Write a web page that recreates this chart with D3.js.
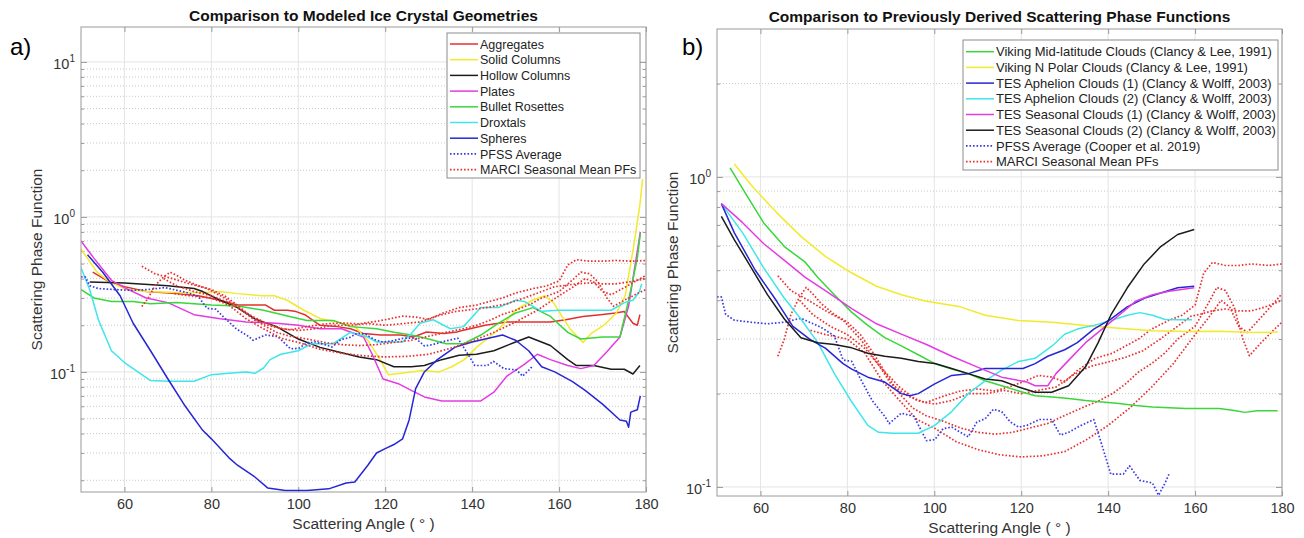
<!DOCTYPE html>
<html><head><meta charset="utf-8">
<script src="https://cdn.jsdelivr.net/npm/d3@7"></script>
<style>
body{margin:0;background:#fff}
svg{display:block}
text{font-family:"Liberation Sans",Arial,Helvetica,sans-serif}
</style>
</head><body>
<svg id="c" width="1304" height="538"></svg>
<script>
// ---------------- DATA ----------------
const X_TICKS = [60, 80, 100, 120, 140, 160, 180];
const LEFT_Y_TICKS = [0.1, 1, 10];
const RIGHT_Y_TICKS = [0.1, 1];

// Left panel: modeled ice crystal geometries  [scattering angle, phase function]
const aggregates = [[52.7,0.44],[56.6,0.38],[60,0.355],[65,0.33],[72,0.32],[77,0.31],[82,0.29],[86,0.27],[92.5,0.27],[94.5,0.25],[97.5,0.25],[99.5,0.245],[101.5,0.234],[105,0.2],[109,0.196],[112,0.19],[115,0.177],[119,0.173],[123.5,0.173],[126.5,0.168],[129.5,0.181],[133.5,0.177],[136.5,0.181],[138,0.186],[143,0.2],[148,0.21],[153,0.21],[158,0.21],[161.5,0.217],[165.5,0.228],[169.5,0.234],[173,0.24],[175,0.245],[177,0.206],[178,0.2],[178.6,0.234]];
const solidColumns = [[50,0.62],[53.7,0.44],[56.6,0.38],[60.5,0.34],[65,0.33],[72,0.325],[78,0.325],[82,0.33],[86,0.32],[91.6,0.31],[94.5,0.31],[97.4,0.29],[101.3,0.25],[105.2,0.22],[109,0.21],[113,0.196],[116,0.16],[119,0.118],[120.7,0.096],[123.7,0.098],[128.5,0.102],[132.4,0.1],[135.3,0.108],[138.2,0.12],[141,0.144],[144,0.168],[147,0.2],[150,0.25],[153.8,0.29],[156.7,0.31],[158.7,0.28],[160.6,0.23],[162.5,0.19],[165.5,0.155],[167.4,0.177],[170.3,0.2],[173.2,0.24],[175.2,0.31],[177.1,0.63],[178.6,1.2],[179.2,1.75]];
const hollowColumns = [[52,0.38],[60,0.375],[70,0.36],[76,0.345],[78,0.33],[82,0.29],[86,0.26],[90,0.22],[95,0.196],[100,0.163],[105,0.144],[110,0.133],[114,0.125],[118,0.12],[122,0.108],[126,0.108],[129,0.11],[133,0.12],[137,0.128],[141,0.13],[145,0.137],[150,0.156],[153,0.168],[158,0.148],[162,0.12],[164,0.11],[168,0.11],[172,0.104],[175,0.104],[177,0.097],[178.6,0.11]];
const plates = [[50,0.7],[53,0.54],[57,0.39],[60,0.35],[65,0.3],[70,0.28],[76,0.234],[82,0.22],[88,0.21],[95,0.206],[100,0.2],[105,0.19],[110,0.19],[115,0.168],[117,0.13],[119.5,0.09],[123,0.084],[126,0.076],[129,0.069],[133,0.065],[137,0.065],[142,0.065],[145,0.074],[148,0.094],[152,0.112],[155,0.13],[158,0.12],[162,0.11],[165,0.105],[168,0.11],[171,0.135],[174,0.168],[176,0.266],[177.5,0.49],[178.7,0.8]];
const bulletRosettes = [[50,0.34],[53,0.3],[57,0.285],[62,0.285],[66,0.275],[72,0.28],[80,0.27],[86,0.266],[92,0.25],[98,0.228],[102,0.215],[108,0.215],[112,0.196],[118,0.19],[122,0.18],[126,0.173],[130,0.163],[134,0.152],[138,0.152],[142,0.173],[146,0.206],[150,0.24],[154,0.26],[158,0.228],[162,0.18],[165,0.163],[170,0.168],[174,0.168],[176,0.29],[178,0.54],[178.7,0.78]];
const droxtals = [[50,0.47],[52,0.34],[54,0.217],[57,0.137],[60,0.115],[66,0.088],[70,0.087],[76,0.087],[80,0.096],[84,0.098],[88,0.1],[90,0.098],[92,0.106],[93.5,0.12],[96,0.13],[100,0.137],[103,0.152],[108,0.152],[112,0.18],[116,0.168],[118,0.156],[124,0.156],[126,0.177],[128,0.206],[131,0.217],[135,0.19],[138,0.196],[142,0.26],[146,0.26],[150,0.29],[152,0.285],[156,0.246],[160,0.25],[166,0.25],[172,0.25],[175,0.28],[177,0.29],[178.5,0.33],[179,0.37]];
const spheres = [[51.5,0.57],[55,0.44],[59,0.31],[62,0.206],[66,0.137],[70,0.09],[74,0.06],[78,0.042],[80,0.037],[84,0.028],[86,0.025],[90,0.021],[93,0.0178],[97,0.0172],[102,0.0172],[107,0.0176],[111,0.0192],[113,0.0195],[116,0.025],[118,0.03],[120,0.032],[122,0.034],[124,0.037],[125.5,0.049],[127,0.078],[129,0.1],[132,0.12],[136,0.144],[140,0.156],[143,0.163],[147,0.173],[150,0.16],[153,0.137],[156,0.108],[159,0.1],[163,0.087],[166,0.076],[170,0.062],[174,0.049],[175.5,0.048],[176,0.044],[176.5,0.055],[178,0.057],[178.7,0.07]];

// Shared: PFSS average (Cooper et al. 2019) and MARCI seasonal mean phase functions
const pfssAverage = [[50,0.41],[51,0.41],[52,0.36],[54,0.345],[57.8,0.34],[61.6,0.336],[65.5,0.34],[69.3,0.35],[71.3,0.34],[74,0.327],[77,0.307],[79,0.257],[81,0.254],[82.8,0.226],[85.7,0.19],[88.6,0.169],[89.6,0.16],[92.4,0.173],[95.3,0.169],[98.2,0.141],[100.1,0.142],[102,0.154],[104,0.156],[107.8,0.145],[109.8,0.162],[111.7,0.166],[113.6,0.178],[115.5,0.175],[117.5,0.162],[119.4,0.156],[121.3,0.158],[124.2,0.165],[127,0.165],[129,0.147],[130.9,0.15],[133.8,0.158],[136.7,0.165],[138.6,0.136],[140.6,0.11],[143.5,0.11],[144.9,0.117],[147.3,0.105],[150.2,0.103],[151.6,0.094],[153.1,0.103],[154,0.11]];
const marci1 = [[64,0.48],[67,0.43],[71,0.4],[75,0.37],[79,0.345],[83,0.3],[87,0.25],[90,0.215],[94,0.196],[98,0.187],[102,0.196],[106,0.204],[110,0.207],[114,0.204],[118,0.212],[121,0.22],[124,0.229],[127,0.226],[130,0.218],[133,0.238],[137,0.26],[141,0.27],[144,0.285],[147,0.3],[150,0.323],[154,0.345],[157,0.358],[160,0.386],[162,0.49],[164,0.53],[167,0.518],[170,0.518],[173,0.524],[177,0.518],[180,0.524]];
const marci2 = [[64,0.264],[65.5,0.3],[67,0.36],[69,0.41],[70.5,0.44],[72,0.42],[74,0.39],[77,0.36],[80,0.34],[83,0.31],[86,0.27],[89,0.23],[92,0.2],[95,0.18],[98,0.17],[102,0.163],[106,0.155],[110,0.15],[114,0.148],[118,0.15],[122,0.155],[126,0.16],[130,0.17],[134,0.18],[138,0.19],[141,0.2],[144,0.215],[147,0.235],[150,0.25],[153,0.27],[156,0.3],[160,0.33],[163,0.39],[165,0.44],[167,0.43],[169,0.38],[171,0.3],[172.5,0.265],[175,0.29],[178,0.32],[180,0.34]];
const marci3 = [[71.5,0.32],[75,0.31],[80,0.3],[84,0.27],[88,0.22],[92,0.19],[96,0.165],[100,0.155],[105,0.14],[110,0.132],[115,0.127],[120,0.125],[125,0.126],[130,0.13],[135,0.142],[140,0.158],[145,0.18],[150,0.21],[155,0.25],[160,0.31],[163,0.35],[166,0.4],[168,0.38],[170,0.33],[172,0.315],[175,0.35],[178,0.39],[180,0.42]];
const marci4 = [[69,0.4],[72,0.36],[76,0.33],[80,0.31],[84,0.28],[88,0.24],[92,0.21],[96,0.19],[100,0.185],[104,0.19],[108,0.2],[112,0.2],[116,0.205],[120,0.2],[124,0.205],[128,0.21],[132,0.23],[136,0.245],[140,0.253],[144,0.262],[148,0.275],[152,0.3],[156,0.33],[159,0.355],[161,0.36],[164,0.37],[167,0.375],[170,0.37],[173,0.37],[176,0.38],[178,0.39],[180,0.4]];

// Right panel: previously derived phase functions
const vikingMidLat = [[53,1.07],[56.8,0.874],[60.7,0.712],[65.5,0.596],[70.3,0.531],[73.2,0.474],[77,0.417],[80.9,0.367],[84.7,0.332],[88.6,0.303],[92.4,0.285],[96.3,0.267],[100.1,0.25],[104,0.24],[107.8,0.232],[111.7,0.22],[115.5,0.212],[119.4,0.204],[123.2,0.197],[127.1,0.195],[130.9,0.193],[134.8,0.19],[138.6,0.188],[142.5,0.186],[146.3,0.183],[150.2,0.181],[154,0.18],[157.9,0.179],[161.7,0.179],[165.6,0.179],[169.4,0.176],[171.4,0.174],[174.3,0.176],[179,0.176]];
const vikingNPolar = [[54,1.1],[57.8,0.943],[63.6,0.77],[69.3,0.643],[75.1,0.552],[79.9,0.5],[86.7,0.444],[92.4,0.417],[98.2,0.397],[106,0.381],[111.7,0.358],[119.4,0.344],[127,0.34],[134.8,0.332],[142.5,0.325],[150.2,0.319],[157.9,0.317],[165.6,0.318],[173.3,0.315],[179,0.316]];
const tesAphelion1 = [[51,0.82],[54,0.66],[58.8,0.5],[63.6,0.4],[67.4,0.33],[71.3,0.3],[75,0.28],[79,0.25],[81,0.24],[84.7,0.226],[88.6,0.218],[92.4,0.2],[94.4,0.197],[96.3,0.2],[100.1,0.215],[104,0.229],[107.8,0.232],[111.7,0.241],[116.5,0.241],[120.4,0.241],[123.2,0.25],[126.1,0.264],[130,0.277],[132.9,0.292],[136.7,0.323],[140.6,0.348],[144.4,0.381],[148.3,0.406],[152.1,0.422],[156,0.439],[159.8,0.444]];
const tesAphelion2 = [[51,0.82],[55.9,0.66],[60.7,0.51],[65.5,0.406],[69.3,0.348],[73.2,0.292],[77,0.232],[80.9,0.189],[84.7,0.158],[87.2,0.15],[90.5,0.149],[96.3,0.149],[100.1,0.158],[104,0.175],[107.8,0.2],[111.7,0.22],[115.5,0.238],[119.4,0.254],[123.2,0.26],[127.1,0.285],[130,0.311],[132.9,0.323],[136.7,0.332],[140.6,0.344],[144.4,0.358],[147.3,0.365],[150.2,0.358],[153.1,0.347],[156,0.346],[159.3,0.346]];
const tesSeasonal1 = [[51,0.82],[55.9,0.712],[60.7,0.61],[65.5,0.538],[70.3,0.474],[75.1,0.428],[81,0.376],[86.7,0.336],[92.4,0.311],[98.2,0.288],[104,0.264],[109.8,0.244],[115.5,0.226],[121.3,0.218],[123.2,0.212],[126.1,0.212],[128,0.232],[131,0.257],[134.8,0.292],[138.6,0.323],[142.5,0.358],[146.3,0.397],[150.2,0.417],[154,0.428],[159.8,0.439]];
const tesSeasonal2 = [[51,0.746],[54,0.627],[57.8,0.512],[61.6,0.417],[65.5,0.348],[69.3,0.303],[73.2,0.292],[77,0.288],[81,0.281],[84.7,0.27],[88.6,0.264],[92.4,0.26],[96.3,0.254],[100.1,0.25],[104,0.241],[107.8,0.232],[111.7,0.223],[115.5,0.22],[119.4,0.21],[123.2,0.202],[127,0.202],[130.9,0.212],[134.8,0.244],[137.7,0.292],[140.6,0.358],[144.4,0.439],[148.3,0.524],[152.1,0.596],[156,0.652],[159.8,0.677]];

const LEFT_LABELS = ["Aggregates","Solid Columns","Hollow Columns","Plates","Bullet Rosettes","Droxtals","Spheres","PFSS Average","MARCI Seasonal Mean PFs"];
const RIGHT_LABELS = ["Viking Mid-latitude Clouds (Clancy & Lee, 1991)","Viking N Polar Clouds (Clancy & Lee, 1991)","TES Aphelion Clouds (1) (Clancy & Wolff, 2003)","TES Aphelion Clouds (2) (Clancy & Wolff, 2003)","TES Seasonal Clouds (1) (Clancy & Wolff, 2003)","TES Seasonal Clouds (2) (Clancy & Wolff, 2003)","PFSS Average (Cooper et al. 2019)","MARCI Seasonal Mean PFs"];

// ---------------- STYLE ----------------
const C = {red:"#e3302f", yellow:"#f2ea2c", black:"#1c1c1c", magenta:"#e23ce2", green:"#3ad63a", cyan:"#3ee6ea", blue:"#2626d6", dotBlue:"#3a3ae6", dotRed:"#e8302f"};

const leftSeries = [
  {d:aggregates, c:C.red}, {d:solidColumns, c:C.yellow}, {d:hollowColumns, c:C.black},
  {d:plates, c:C.magenta}, {d:bulletRosettes, c:C.green}, {d:droxtals, c:C.cyan},
  {d:spheres, c:C.blue}, {d:pfssAverage, c:C.dotBlue, dot:true},
  {d:marci1, c:C.dotRed, dot:true}, {d:marci2, c:C.dotRed, dot:true}, {d:marci3, c:C.dotRed, dot:true}, {d:marci4, c:C.dotRed, dot:true}
];
const leftLegend = [C.red,C.yellow,C.black,C.magenta,C.green,C.cyan,C.blue,C.dotBlue,C.dotRed].map((c,i)=>({c, label:LEFT_LABELS[i], dot:i>=7}));

const rightSeries = [
  {d:marci1, c:C.dotRed, dot:true}, {d:marci2, c:C.dotRed, dot:true}, {d:marci3, c:C.dotRed, dot:true}, {d:marci4, c:C.dotRed, dot:true},
  {d:pfssAverage, c:C.dotBlue, dot:true},
  {d:vikingNPolar, c:C.yellow}, {d:vikingMidLat, c:C.green}, {d:tesAphelion2, c:C.cyan},
  {d:tesAphelion1, c:C.blue}, {d:tesSeasonal1, c:C.magenta}, {d:tesSeasonal2, c:C.black}
];
const rightLegend = [C.green,C.yellow,C.blue,C.cyan,C.magenta,C.black,C.dotBlue,C.dotRed].map((c,i)=>({c, label:RIGHT_LABELS[i], dot:i>=6}));

const svg = d3.select("#c");
svg.append("rect").attr("width",1304).attr("height",538).attr("fill","#fff");

function panel(cfg){
  const g = svg.append("g");
  const x = d3.scaleLinear().domain([50,180]).range([cfg.x0,cfg.x1]);
  const y = d3.scaleLog().domain(cfg.yDomain).range([cfg.y1,cfg.y0]);
  const W = cfg.x1-cfg.x0, H = cfg.y1-cfg.y0;

  const clipId = "clip"+cfg.id;
  svg.append("clipPath").attr("id",clipId).append("rect")
     .attr("x",cfg.x0).attr("y",cfg.y0).attr("width",W).attr("height",H);

  // minor values
  const minors=[];
  const e0=Math.floor(Math.log10(cfg.yDomain[0])), e1=Math.ceil(Math.log10(cfg.yDomain[1]));
  for(let e=e0;e<=e1;e++) for(let k=2;k<=9;k++){const v=k*Math.pow(10,e); if(v>cfg.yDomain[0]&&v<cfg.yDomain[1]*0.999) minors.push(v);}

  // grids
  g.selectAll(".mg").data(minors).join("line")
    .attr("x1",cfg.x0).attr("x2",cfg.x1).attr("y1",d=>y(d)).attr("y2",d=>y(d))
    .attr("stroke","#c8c8c8").attr("stroke-width",1).attr("stroke-dasharray","1,2");
  g.selectAll(".xg").data(X_TICKS).join("line")
    .attr("x1",d=>x(d)).attr("x2",d=>x(d)).attr("y1",cfg.y0).attr("y2",cfg.y1)
    .attr("stroke","#e4e4e4").attr("stroke-width",1);
  g.selectAll(".yg").data(cfg.yTicks).join("line")
    .attr("x1",cfg.x0).attr("x2",cfg.x1).attr("y1",d=>y(d)).attr("y2",d=>y(d))
    .attr("stroke","#e4e4e4").attr("stroke-width",1);

  // axes (ticks inward)
  const axCol="#9a9a9a";
  const bottom = g.append("g").attr("transform",`translate(0,${cfg.y1})`)
    .call(d3.axisBottom(x).tickValues(X_TICKS).tickSize(-5).tickPadding(7).tickFormat(d3.format("d")));
  const top = g.append("g").attr("transform",`translate(0,${cfg.y0})`)
    .call(d3.axisTop(x).tickValues(X_TICKS).tickSize(-5).tickFormat(""));
  const left = g.append("g").attr("transform",`translate(${cfg.x0},0)`)
    .call(d3.axisLeft(y).tickValues(cfg.yTicks).tickSize(-6).tickFormat(""));
  const right = g.append("g").attr("transform",`translate(${cfg.x1},0)`)
    .call(d3.axisRight(y).tickValues(cfg.yTicks).tickSize(-6).tickFormat(""));
  const leftMin = g.append("g").attr("transform",`translate(${cfg.x0},0)`)
    .call(d3.axisLeft(y).tickValues(minors).tickSize(-3).tickFormat(""));
  const rightMin = g.append("g").attr("transform",`translate(${cfg.x1},0)`)
    .call(d3.axisRight(y).tickValues(minors).tickSize(-3).tickFormat(""));
  [bottom,top,left,right,leftMin,rightMin].forEach(a=>{
    a.select(".domain").remove();
    a.selectAll("line").attr("stroke",axCol);
  });
  bottom.selectAll("text").attr("font-size",14.5).attr("fill","#333")
    .attr("font-family",'"Liberation Sans",Arial,sans-serif');

  // y tick labels 10^n
  const fmtExp = d=>String(Math.round(Math.log10(d)));
  const yl = g.selectAll(".yl").data(cfg.yTicks).join("text")
    .attr("x",cfg.x0-6).attr("y",d=>y(d)+7.5).attr("text-anchor","end")
    .attr("font-size",14.5).attr("fill","#333");
  yl.append("tspan").text("10");
  yl.append("tspan").attr("dy",-7).attr("font-size",10).text(fmtExp);

  // series
  const line = d3.line().x(d=>x(d[0])).y(d=>y(d[1]));
  const sg = g.append("g").attr("clip-path",`url(#${clipId})`);
  cfg.series.forEach(s=>{
    sg.append("path").datum(s.d).attr("d",line).attr("fill","none")
      .attr("stroke",s.c).attr("stroke-width",s.dot?1.7:1.5)
      .attr("stroke-dasharray",s.dot?"1.6,1.9":null)
      .attr("stroke-linejoin","round");
  });

  // box
  g.append("rect").attr("x",cfg.x0).attr("y",cfg.y0).attr("width",W).attr("height",H)
    .attr("fill","none").attr("stroke",axCol).attr("stroke-width",1);

  // legend
  const L = cfg.legend;
  const lg = g.append("g");
  lg.append("rect").attr("x",L.x).attr("y",L.y).attr("width",L.w).attr("height",L.h)
    .attr("fill","#fff").attr("stroke","#8c8c8c").attr("stroke-width",1);
  const rows = lg.selectAll(".lr").data(L.items).join("g")
    .attr("transform",(d,i)=>`translate(0,${L.firstRow + i*L.step})`);
  rows.append("line").attr("x1",L.x+3).attr("x2",L.x+31).attr("y1",0).attr("y2",0)
    .attr("stroke",d=>d.c).attr("stroke-width",d=>d.dot?1.7:1.5)
    .attr("stroke-dasharray",d=>d.dot?"1.6,1.9":null);
  rows.append("text").attr("x",L.x+33).attr("y",4.6).attr("font-size",L.fs).attr("fill","#222")
    .text(d=>d.label);

  // titles
  g.append("text").attr("x",(cfg.x0+cfg.x1)/2).attr("y",cfg.titleY).attr("text-anchor","middle")
    .attr("font-size",15.5).attr("font-weight","bold").attr("fill","#111").text(cfg.title);
  g.append("text").attr("x",(cfg.x0+cfg.x1)/2).attr("y",cfg.xLabelY).attr("text-anchor","middle")
    .attr("font-size",15.5).attr("fill","#333").text("Scattering Angle ( ° )");
  g.append("text").attr("transform",`translate(${cfg.yLabelX},${(cfg.y0+cfg.y1)/2}) rotate(-90)`)
    .attr("text-anchor","middle").attr("font-size",15.5).attr("fill","#333").text("Scattering Phase Function");
  g.append("text").attr("x",cfg.tagX).attr("y",55).attr("font-size",24).attr("fill","#000")
    .attr("font-family",'"Open Sans","Liberation Sans",sans-serif').text(cfg.tag);
}

panel({id:"L", x0:81, x1:646, y0:27, y1:492, yDomain:[0.0168,16.8], yTicks:LEFT_Y_TICKS,
  series:leftSeries, title:"Comparison to Modeled Ice Crystal Geometries", titleY:21, xLabelY:529, yLabelX:42,
  tag:"a)", tagX:10,
  legend:{x:447, y:33, w:193, h:145, firstRow:44, step:15.7, fs:12.5, items:leftLegend}});

panel({id:"R", x0:717, x1:1282, y0:29, y1:496, yDomain:[0.0935,3.0], yTicks:RIGHT_Y_TICKS,
  series:rightSeries, title:"Comparison to Previously Derived Scattering Phase Functions", titleY:22, xLabelY:533, yLabelX:678,
  tag:"b)", tagX:682,
  legend:{x:963, y:40, w:315, h:130, firstRow:51.7, step:15.7, fs:13, items:rightLegend}});
</script>
</body></html>
